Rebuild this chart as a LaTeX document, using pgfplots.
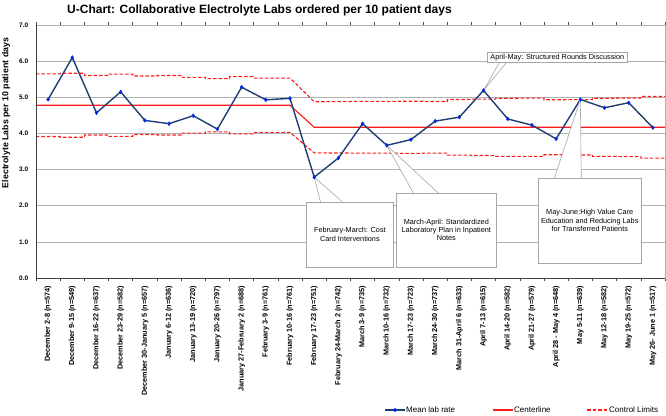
\documentclass[border=0pt]{standalone}
\usepackage{pgfplots}
\pgfplotsset{compat=1.18}
\usepackage{fontspec}
\setmainfont{Liberation Sans}
\definecolor{navy}{RGB}{31,62,115}
\definecolor{mblue}{RGB}{0,40,230}
\definecolor{cred}{RGB}{255,25,25}
\begin{document}
\begin{tikzpicture}[x=1pt,y=1pt]
\useasboundingbox (-36,-137) rectangle (630,278);
% legend graphics (lines first, then texts)
\draw[navy, line width=1.4pt] (349,-132) -- (369,-132);
\fill[mblue] (359,-134.2) -- (361.2,-132) -- (359,-129.8) -- (356.8,-132) -- cycle;
\draw[cred, line width=1.1pt] (457,-132) -- (477,-132);
\draw[cred, line width=1.1pt, dash pattern=on 3.5pt off 2pt] (551,-132) -- (572,-132);
\node[font=\fontsize{12}{14}\selectfont\bfseries] at (223.5,268) {U-Chart: Collaborative Electrolyte Labs ordered per 10 patient days};
\node[rotate=90,font=\fontsize{8.8}{10}\selectfont\bfseries] at (-30,165) {Electrolyte Labs per 10 patient days};
\node[anchor=west, inner sep=0pt, font=\fontsize{8}{9}\selectfont] at (370,-132) {Mean lab rate};
\node[anchor=west, inner sep=0pt, font=\fontsize{8}{9}\selectfont] at (478,-132) {Centerline};
\node[anchor=west, inner sep=0pt, font=\fontsize{8}{9}\selectfont] at (573,-132) {Control Limits};
\begin{axis}[scale only axis,
  width=629pt, height=253pt,
  xmin=-0.5, xmax=25.5, ymin=0, ymax=7, clip=false,
  /pgf/number format/assume math mode=true,
  ytick={0,1,...,7},
  yticklabel style={font=\fontsize{6.5}{7}\selectfont\bfseries, /pgf/number format/.cd, fixed, fixed zerofill, precision=1},
  ytick style={draw=none},
  ymajorgrids, grid style={gray!60, line width=0.6pt},
  xtick={0,1,...,25},
  major x tick style={draw=none},
  minor xtick={-0.5,0.5,...,25.5},
  minor x tick style={black!70, line width=0.6pt},
  minor tick length=3pt, tick align=outside,
  axis line style={gray!60, line width=0.7pt},
  xticklabel style={rotate=90, anchor=east, font=\fontsize{7.3}{8}\selectfont\bfseries},
  xticklabels={{December 2-8 (n=574)},{December 9-15 (n=549)},{December 16-22 (n=637)},{December 23-29 (n=582)},{December 30-January 5 (n=657)},{January 6-12 (n=636)},{January 13-19 (n=720)},{January 20-26 (n=797)},{January 27-February 2 (n=688)},{February 3-9 (n=761)},{February 10-16 (n=761)},{February 17-23 (n=751)},{February 24-March 2 (n=742)},{March 3-9 (n=735)},{March 10-16 (n=732)},{March 17-23 (n=723)},{March 24-30 (n=737)},{March 31-April 6 (n=633)},{April 7-13 (n=615)},{April 14-20 (n=582)},{April 21-27 (n=579)},{April 28 - May 4 (n=648)},{May 5-11 (n=639)},{May 12-18 (n=582)},{May 19-25 (n=572)},{May 26- June 1 (n=517)}},
]
\addplot[cred, line width=1.1pt] coordinates {(-0.5,4.78)(10,4.78)(11,4.17)(25.5,4.17)};
\addplot[cred, line width=1.1pt, dash pattern=on 3.5pt off 2pt] coordinates {
(-0.5,5.646)(0.5,5.646)(0.5,5.665)(1.5,5.665)(1.5,5.602)(2.5,5.602)(2.5,5.640)(3.5,5.640)(3.5,5.589)(4.5,5.589)(4.5,5.602)(5.5,5.602)(5.5,5.553)(6.5,5.553)(6.5,5.515)(7.5,5.515)(7.5,5.571)(8.5,5.571)(8.5,5.532)(10,5.532)(11,4.877)(11.5,4.877)(11.5,4.881)(12.5,4.881)(12.5,4.885)(13.5,4.885)(13.5,4.886)(14.5,4.886)(14.5,4.891)(15.5,4.891)(15.5,4.884)(16.5,4.884)(16.5,4.940)(17.5,4.940)(17.5,4.951)(18.5,4.951)(18.5,4.973)(19.5,4.973)(19.5,4.975)(20.5,4.975)(20.5,4.931)(21.5,4.931)(21.5,4.936)(22.5,4.936)(22.5,4.973)(23.5,4.973)(23.5,4.980)(24.5,4.980)(24.5,5.022)(25.5,5.022)};
\addplot[cred, line width=1.1pt, dash pattern=on 3.5pt off 2pt] coordinates {
(-0.5,3.914)(0.5,3.914)(0.5,3.895)(1.5,3.895)(1.5,3.958)(2.5,3.958)(2.5,3.920)(3.5,3.920)(3.5,3.971)(4.5,3.971)(4.5,3.958)(5.5,3.958)(5.5,4.007)(6.5,4.007)(6.5,4.045)(7.5,4.045)(7.5,3.989)(8.5,3.989)(8.5,4.028)(10,4.028)(11,3.463)(11.5,3.463)(11.5,3.459)(12.5,3.459)(12.5,3.455)(13.5,3.455)(13.5,3.454)(14.5,3.454)(14.5,3.450)(15.5,3.450)(15.5,3.456)(16.5,3.456)(16.5,3.400)(17.5,3.400)(17.5,3.389)(18.5,3.389)(18.5,3.367)(19.5,3.367)(19.5,3.365)(20.5,3.365)(20.5,3.409)(21.5,3.409)(21.5,3.404)(22.5,3.404)(22.5,3.367)(23.5,3.367)(23.5,3.360)(24.5,3.360)(24.5,3.318)(25.5,3.318)};
\addplot[navy, line width=1.4pt, mark=diamond*, mark size=2pt, mark options={mblue, fill=mblue, line width=0.3pt}] coordinates {
(0,4.94)(1,6.10)(2,4.57)(3,5.15)(4,4.36)(5,4.27)(6,4.49)(7,4.12)(8,5.28)(9,4.93)(10,4.97)(11,2.79)(12,3.32)(13,4.27)(14,3.67)(15,3.83)(16,4.34)(17,4.45)(18,5.19)(19,4.40)(20,4.23)(21,3.85)(22,4.94)(23,4.71)(24,4.85)(25,4.16)};
% axis left and bottom
\draw[black!75, line width=0.8pt] (rel axis cs:0,1) -- (rel axis cs:0,0) -- (rel axis cs:1,0);
% annotation boxes
\tikzset{callbox/.style={draw=gray!70, line width=0.6pt, fill=white}}
\tikzset{calltext/.style={font=\fontsize{7.3}{8.2}\selectfont, align=center}}
% box 1
\draw[callbox] (axis cs:18.16,5.958) rectangle (axis cs:23.94,6.234);
\draw[gray!70, line width=0.6pt] (axis cs:18.65,5.958) -- (axis cs:18,5.19) -- (axis cs:18.94,5.958);
% box 2
\draw[callbox] (axis cs:10.68,2.103) rectangle (axis cs:14.27,0.304);
\fill[white] (axis cs:11.26,2.12) -- (axis cs:11,2.79) -- (axis cs:12.17,2.12) -- cycle;
\draw[gray!70, line width=0.6pt] (axis cs:11.26,2.103) -- (axis cs:11,2.79) -- (axis cs:12.17,2.103);
% box 3
\draw[callbox] (axis cs:14.39,2.352) rectangle (axis cs:18.53,0.304);
\fill[white] (axis cs:15.10,2.37) -- (axis cs:14,3.67) -- (axis cs:16.13,2.37) -- cycle;
\draw[gray!70, line width=0.6pt] (axis cs:15.10,2.352) -- (axis cs:14,3.67) -- (axis cs:16.13,2.352);
% box 4
\draw[callbox] (axis cs:20.26,2.767) rectangle (axis cs:24.52,0.415);
\fill[white] (axis cs:20.93,2.785) -- (axis cs:22,4.94) -- (axis cs:22.04,2.785) -- cycle;
\draw[gray!70, line width=0.6pt] (axis cs:20.93,2.767) -- (axis cs:22,4.94) -- (axis cs:22.04,2.767);
% texts
\node[calltext] at (axis cs:21.05,6.096) {April-May: Structured Rounds Discussion};
\node[calltext] at (axis cs:12.475,1.204) {February-March: Cost\\Card Interventions};
\node[calltext] at (axis cs:16.46,1.328) {March-April: Standardized\\Laboratory Plan in Inpatient\\Notes};
\node[calltext] at (axis cs:22.39,1.591) {May-June:High Value Care\\Education and Reducing Labs\\for Transferred Patients};
\end{axis}
\end{tikzpicture}
\end{document}
